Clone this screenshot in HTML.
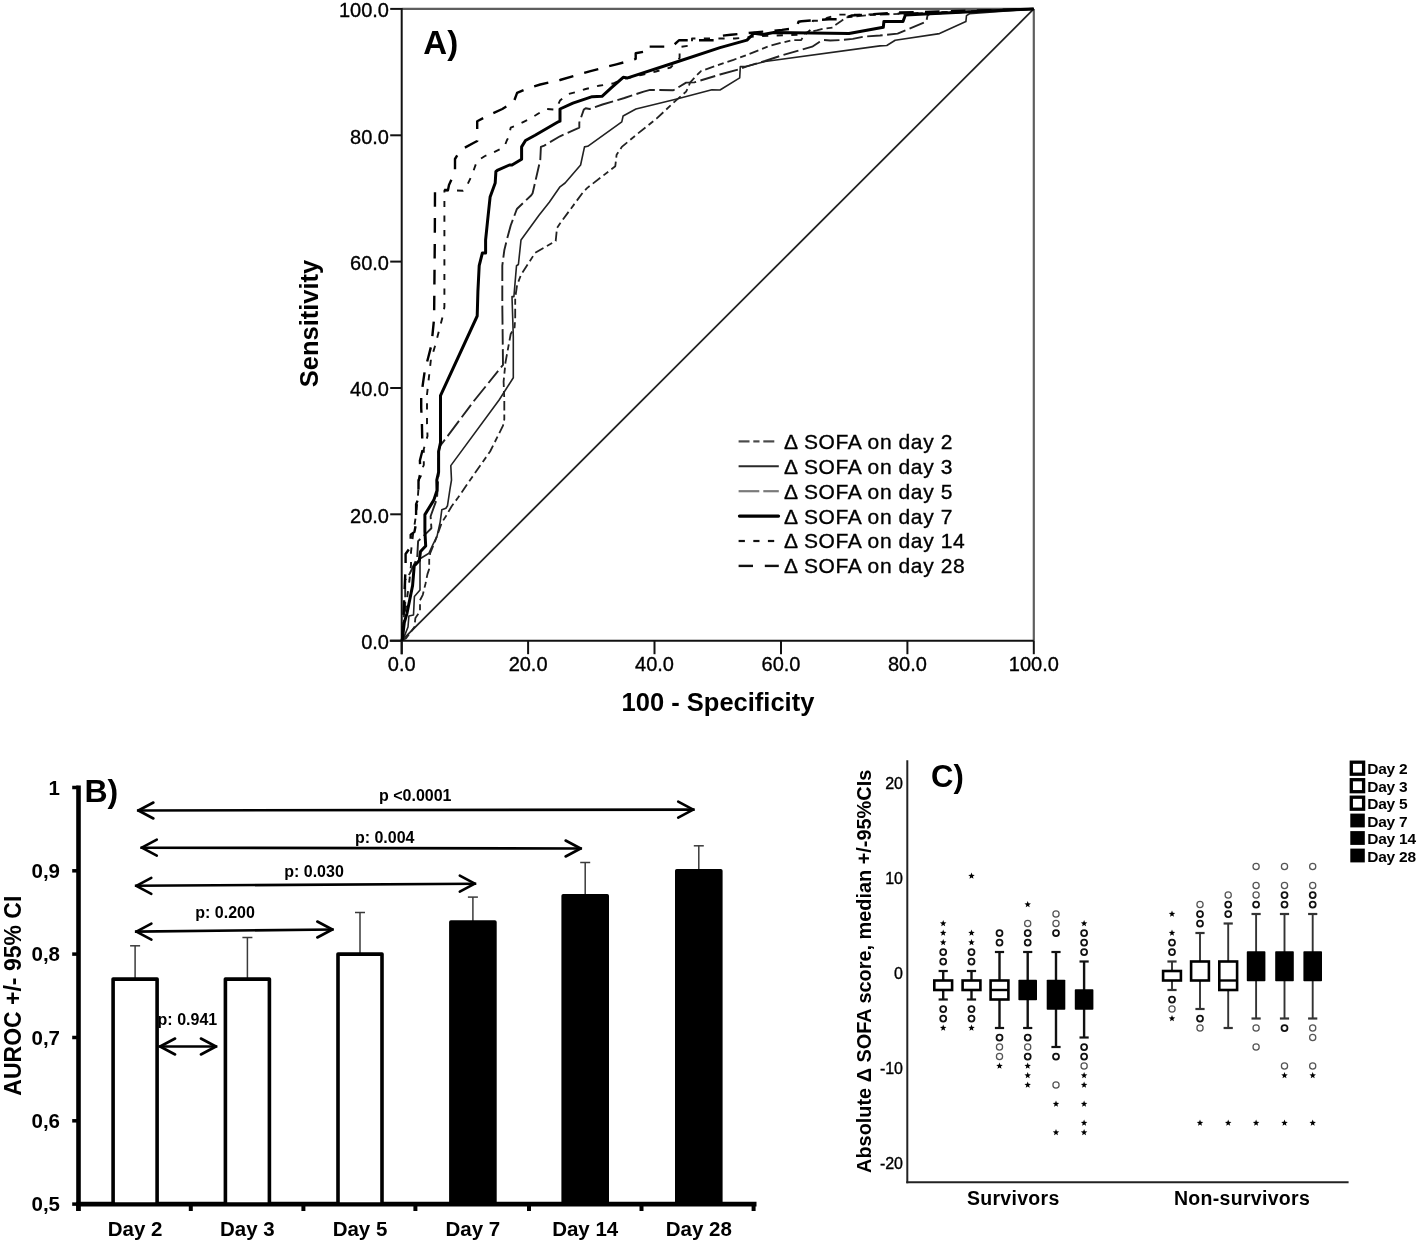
<!DOCTYPE html>
<html><head><meta charset="utf-8"><title>Figure</title>
<style>
html,body{margin:0;padding:0;background:#fff;}
svg{display:block;filter:blur(0.45px);}
text{font-family:"Liberation Sans", sans-serif;fill:#000;}
.rg{stroke:#000;stroke-width:0.35px;}
</style></head>
<body>
<svg width="1418" height="1243" viewBox="0 0 1418 1243">
<rect width="1418" height="1243" fill="#fff"/>
<line x1="401.7" y1="8.9" x2="1033.8" y2="8.9" stroke="#5e5e5e" stroke-width="2.2"/>
<line x1="1033.8" y1="8.9" x2="1033.8" y2="640.7" stroke="#5e5e5e" stroke-width="2.2"/>
<line x1="401.7" y1="7.9" x2="401.7" y2="654.2" stroke="#111" stroke-width="2"/>
<line x1="389.7" y1="640.7" x2="1033.8" y2="640.7" stroke="#111" stroke-width="2"/>
<line x1="401.7" y1="640.7" x2="1033.8" y2="8.9" stroke="#222" stroke-width="1.8"/>
<line x1="390.2" y1="640.7" x2="401.7" y2="640.7" stroke="#111" stroke-width="2"/>
<line x1="401.7" y1="640.7" x2="401.7" y2="654.2" stroke="#111" stroke-width="2"/>
<text x="389" y="649.0" font-size="20" text-anchor="end" class="rg">0.0</text>
<text x="401.7" y="670.6" font-size="20" text-anchor="middle" class="rg">0.0</text>
<line x1="390.2" y1="514.3" x2="401.7" y2="514.3" stroke="#111" stroke-width="2"/>
<line x1="528.1" y1="640.7" x2="528.1" y2="654.2" stroke="#111" stroke-width="2"/>
<text x="389" y="522.6" font-size="20" text-anchor="end" class="rg">20.0</text>
<text x="528.1" y="670.6" font-size="20" text-anchor="middle" class="rg">20.0</text>
<line x1="390.2" y1="388.0" x2="401.7" y2="388.0" stroke="#111" stroke-width="2"/>
<line x1="654.5" y1="640.7" x2="654.5" y2="654.2" stroke="#111" stroke-width="2"/>
<text x="389" y="396.3" font-size="20" text-anchor="end" class="rg">40.0</text>
<text x="654.5" y="670.6" font-size="20" text-anchor="middle" class="rg">40.0</text>
<line x1="390.2" y1="261.6" x2="401.7" y2="261.6" stroke="#111" stroke-width="2"/>
<line x1="781.0" y1="640.7" x2="781.0" y2="654.2" stroke="#111" stroke-width="2"/>
<text x="389" y="269.9" font-size="20" text-anchor="end" class="rg">60.0</text>
<text x="781.0" y="670.6" font-size="20" text-anchor="middle" class="rg">60.0</text>
<line x1="390.2" y1="135.3" x2="401.7" y2="135.3" stroke="#111" stroke-width="2"/>
<line x1="907.4" y1="640.7" x2="907.4" y2="654.2" stroke="#111" stroke-width="2"/>
<text x="389" y="143.6" font-size="20" text-anchor="end" class="rg">80.0</text>
<text x="907.4" y="670.6" font-size="20" text-anchor="middle" class="rg">80.0</text>
<line x1="390.2" y1="8.9" x2="401.7" y2="8.9" stroke="#111" stroke-width="2"/>
<line x1="1033.8" y1="640.7" x2="1033.8" y2="654.2" stroke="#111" stroke-width="2"/>
<text x="389" y="17.2" font-size="20" text-anchor="end" class="rg">100.0</text>
<text x="1033.8" y="670.6" font-size="20" text-anchor="middle" class="rg">100.0</text>
<text x="718" y="711.3" font-size="25.5" font-weight="bold" text-anchor="middle">100 - Specificity</text>
<text transform="translate(318,323.5) rotate(-90)" x="0" y="0" font-size="25.5" font-weight="bold" text-anchor="middle">Sensitivity</text>
<text x="423.3" y="53.8" font-size="33" font-weight="bold">A)</text>
<path d="M402.0,640.7 L404.3,636.4 L408.0,627.0 L408.9,616.0 L413.5,615.0 L414.4,596.6 L420.0,590.0 L420.0,558.8 L429.0,553.2 L433.0,544.4 L437.0,536.3 L440.2,521.8 L441.8,509.8 L445.9,508.2 L447.5,505.7 L449.9,489.7 L451.5,480.0 L450.8,465.6 L499.1,400.0 L513.3,377.7 L513.3,336.5 L512.0,296.6 L513.9,296.6 L516.5,265.7 L518.4,264.5 L521.0,240.0 L539.0,215.2 L549.3,202.3 L560.0,186.8 L565.1,183.0 L580.6,165.0 L584.5,146.9 L587.7,146.3 L621.8,121.8 L623.1,116.0 L635.9,109.0 L675.8,99.3 L711.9,89.7 L720.0,90.0 L739.7,77.9 L740.3,66.6 L746.0,66.6 L765.0,61.5 L880.0,45.9 L886.8,45.5 L895.2,40.2 L939.5,33.6 L965.9,21.6 L966.5,15.6 L969.5,13.8 L1033.6,9.0" fill="none" stroke="#222" stroke-width="1.6" stroke-linejoin="round"/>
<path d="M402.0,640.7 L403.0,625.0 L405.2,604.0 L405.2,580.0 L409.8,573.5 L417.2,557.8 L418.1,541.1 L426.5,533.1 L431.4,528.3 L430.6,516.2 L437.0,498.5 L438.6,472.0 L438.6,451.5 L439.9,446.3 L474.7,400.0 L503.0,364.9 L502.3,304.4 L502.3,265.7 L504.3,250.3 L506.8,240.0 L510.7,225.5 L516.5,210.0 L517.1,208.7 L531.3,195.2 L532.6,193.3 L540.3,159.8 L540.9,146.9 L544.2,145.6 L560.0,136.3 L579.3,127.6 L579.3,122.5 L583.8,109.6 L585.7,108.3 L589.6,109.0 L602.5,104.5 L624.4,98.0 L643.7,91.6 L650.1,89.9 L673.3,90.3 L686.1,82.6 L694.3,82.4 L720.0,74.5 L738.6,69.4 L746.0,66.6 L765.0,61.0 L782.9,55.0 L812.2,46.7 L819.0,42.2 L823.5,40.0 L830.3,40.5 L841.6,40.0 L852.8,38.9 L864.1,36.6 L880.0,35.5 L897.6,33.6 L926.3,21.6 L927.5,15.6 L930.0,13.8 L1033.6,9.0" fill="none" stroke="#222" stroke-width="1.9" stroke-dasharray="19 4.5 15.5 4.5" stroke-linejoin="round"/>
<path d="M402.0,640.7 L406.1,638.2 L414.4,627.1 L415.4,617.9 L420.0,611.4 L420.0,600.3 L422.8,594.8 L425.5,583.7 L427.4,574.4 L429.2,568.9 L429.2,559.6 L430.2,553.1 L434.8,542.0 L441.8,522.6 L445.9,516.2 L451.5,506.5 L457.9,497.8 L472.1,477.2 L490.1,451.5 L503.0,425.7 L504.3,419.3 L504.3,400.0 L503.6,381.6 L505.5,362.3 L510.7,334.0 L514.6,327.5 L515.2,317.2 L515.2,297.9 L517.1,285.0 L521.0,274.8 L535.1,252.9 L555.7,241.0 L557.0,228.0 L560.0,223.5 L583.2,192.0 L587.0,188.1 L615.3,166.2 L616.6,154.7 L621.8,146.9 L637.2,134.1 L656.5,118.6 L675.8,100.6 L686.1,91.6 L688.7,86.4 L690.0,82.6 L695.4,76.7 L701.0,71.1 L720.0,64.3 L733.5,59.8 L746.0,55.3 L757.2,50.8 L768.5,46.3 L780.9,42.9 L792.2,40.1 L801.2,40.1 L805.0,33.0 L816.7,30.4 L823.5,28.7 L832.5,27.6 L834.8,25.3 L841.6,20.8 L846.0,17.4 L870.0,15.0 L1033.6,9.0" fill="none" stroke="#222" stroke-width="1.8" stroke-dasharray="9.5 4 6 4" stroke-linejoin="round"/>
<path d="M402.0,640.7 L403.5,625.0 L405.5,610.0 L407.5,595.0 L409.5,580.0 L411.0,565.0 L411.0,552.0 L413.0,535.0 L416.0,515.0 L418.0,495.0 L419.3,476.0 L423.8,465.0 L423.8,449.0 L427.5,436.0 L427.0,424.0 L427.0,394.5 L430.9,359.7 L434.8,346.8 L442.5,317.2 L444.4,307.0 L444.4,190.5 L454.7,190.5 L463.0,190.7 L467.0,185.5 L472.0,175.0 L477.0,161.0 L485.0,156.0 L492.7,152.7 L504.3,147.0 L506.8,140.5 L508.8,136.6 L510.7,127.6 L515.8,125.7 L523.6,121.8 L528.7,119.3 L536.4,114.8 L541.6,111.5 L546.7,109.0 L554.5,109.6 L558.0,105.0 L560.0,100.6 L567.7,94.2 L575.4,92.2 L585.7,89.0 L598.6,85.8 L613.0,83.5 L623.0,79.0 L641.2,75.0 L655.9,71.5 L670.6,67.5 L679.6,58.1 L679.6,47.0 L692.0,45.3 L692.0,38.5 L735.0,38.5 L760.0,36.0 L805.0,34.5 L811.0,29.3 L812.8,20.8 L823.5,20.8 L826.9,18.0 L838.2,14.6 L864.0,14.6 L900.0,13.5 L1033.6,9.0" fill="none" stroke="#111" stroke-width="1.9" stroke-dasharray="6.2 8.4" stroke-linejoin="round"/>
<path d="M402.0,640.7 L403.0,625.0 L405.6,567.0 L405.6,554.0 L410.7,546.7 L410.7,534.6 L414.4,531.9 L416.1,523.4 L416.1,504.1 L418.5,498.5 L418.5,480.0 L420.6,476.0 L419.9,460.5 L422.5,450.2 L421.9,423.2 L421.2,407.7 L421.2,396.4 L423.2,381.6 L424.9,370.0 L428.3,357.2 L431.5,344.7 L434.1,318.5 L434.8,240.0 L435.0,190.0 L448.0,190.0 L449.0,185.0 L455.0,172.0 L455.0,159.0 L460.5,150.0 L473.4,143.0 L477.2,141.0 L477.2,121.2 L490.0,114.7 L502.3,109.0 L512.0,103.2 L513.3,103.2 L517.1,92.9 L527.4,88.4 L540.3,84.5 L560.0,80.0 L590.5,71.1 L616.4,64.3 L627.6,61.4 L635.7,58.8 L635.7,53.3 L646.2,51.2 L646.2,46.6 L672.0,46.6 L679.2,40.2 L715.6,40.2 L719.0,36.0 L730.8,34.7 L782.0,29.9 L795.0,28.3 L797.5,25.0 L798.5,21.8 L801.5,21.2 L829.0,19.3 L838.0,19.3 L846.0,17.4 L852.0,15.5 L900.0,12.5 L1033.6,9.0" fill="none" stroke="#000" stroke-width="2.4" stroke-dasharray="14.6 11.3" stroke-linejoin="round"/>
<path d="M402.0,640.7 L402.4,639.0 L404.3,622.5 L407.0,613.3 L409.8,599.4 L412.6,585.5 L414.2,566.1 L419.3,560.5 L420.5,551.6 L425.7,546.0 L424.9,531.5 L424.9,514.6 L433.8,500.1 L437.0,490.5 L436.8,480.0 L438.6,472.1 L438.6,451.5 L440.5,442.5 L440.5,395.7 L477.2,316.0 L477.9,291.5 L479.2,265.7 L482.4,252.9 L485.6,252.9 L485.6,240.0 L487.5,221.6 L490.1,197.1 L495.2,183.0 L495.9,171.4 L497.8,170.1 L509.4,165.0 L512.0,165.0 L521.6,159.2 L521.6,146.9 L525.5,140.5 L535.1,135.3 L558.3,121.8 L560.0,121.2 L560.0,109.0 L572.9,103.2 L592.2,96.7 L602.0,96.3 L611.5,87.7 L623.2,77.3 L627.7,77.9 L672.8,63.2 L720.0,47.6 L747.0,40.1 L753.9,33.3 L762.9,34.4 L773.9,32.6 L849.0,33.5 L883.3,27.3 L883.9,21.5 L903.0,21.5 L905.4,15.0 L930.0,13.8 L965.9,12.0 L1033.6,9.0" fill="none" stroke="#000" stroke-width="3" stroke-linejoin="round"/>
<line x1="738.6" y1="441.4" x2="749.5" y2="441.4" stroke="#4a4a4a" stroke-width="2.2"/>
<line x1="753.3" y1="441.4" x2="759.5" y2="441.4" stroke="#4a4a4a" stroke-width="2.2"/>
<line x1="763.3" y1="441.4" x2="774.3" y2="441.4" stroke="#4a4a4a" stroke-width="2.2"/>
<text x="784" y="448.8" font-size="21" letter-spacing="0.6" class="rg">Δ SOFA on day 2</text>
<line x1="738.6" y1="466.3" x2="778.8" y2="466.3" stroke="#2a2a2a" stroke-width="2.0"/>
<text x="784" y="473.7" font-size="21" letter-spacing="0.6" class="rg">Δ SOFA on day 3</text>
<line x1="738.6" y1="491.2" x2="759.3" y2="491.2" stroke="#7a7a7a" stroke-width="2.2"/>
<line x1="763.3" y1="491.2" x2="778.8" y2="491.2" stroke="#7a7a7a" stroke-width="2.2"/>
<text x="784" y="498.6" font-size="21" letter-spacing="0.6" class="rg">Δ SOFA on day 5</text>
<line x1="739.5" y1="516.1" x2="778.5" y2="516.1" stroke="#000" stroke-width="3.3" stroke-linecap="round"/>
<text x="784" y="523.5" font-size="21" letter-spacing="0.6" class="rg">Δ SOFA on day 7</text>
<line x1="738.6" y1="541.0" x2="744.9" y2="541.0" stroke="#111" stroke-width="2.2"/>
<line x1="753.3" y1="541.0" x2="759.5" y2="541.0" stroke="#111" stroke-width="2.2"/>
<line x1="767.9" y1="541.0" x2="774.2" y2="541.0" stroke="#111" stroke-width="2.2"/>
<text x="784" y="548.4" font-size="21" letter-spacing="0.6" class="rg">Δ SOFA on day 14</text>
<line x1="738.6" y1="565.9" x2="753" y2="565.9" stroke="#111" stroke-width="2.4"/>
<line x1="764.8" y1="565.9" x2="778.8" y2="565.9" stroke="#111" stroke-width="2.4"/>
<text x="784" y="573.3" font-size="21" letter-spacing="0.6" class="rg">Δ SOFA on day 28</text>
<line x1="78.5" y1="785.5" x2="78.5" y2="1211" stroke="#000" stroke-width="4.6"/>
<line x1="76.2" y1="1204.1" x2="756.5" y2="1204.1" stroke="#000" stroke-width="4.6"/>
<line x1="72.2" y1="1204.1" x2="78.5" y2="1204.1" stroke="#000" stroke-width="3.5"/>
<text x="60" y="1211.4" font-size="20.5" font-weight="bold" text-anchor="end">0,5</text>
<line x1="72.2" y1="1120.8" x2="78.5" y2="1120.8" stroke="#000" stroke-width="3.5"/>
<text x="60" y="1128.1" font-size="20.5" font-weight="bold" text-anchor="end">0,6</text>
<line x1="72.2" y1="1037.5" x2="78.5" y2="1037.5" stroke="#000" stroke-width="3.5"/>
<text x="60" y="1044.8" font-size="20.5" font-weight="bold" text-anchor="end">0,7</text>
<line x1="72.2" y1="954.1" x2="78.5" y2="954.1" stroke="#000" stroke-width="3.5"/>
<text x="60" y="961.4" font-size="20.5" font-weight="bold" text-anchor="end">0,8</text>
<line x1="72.2" y1="870.8" x2="78.5" y2="870.8" stroke="#000" stroke-width="3.5"/>
<text x="60" y="878.1" font-size="20.5" font-weight="bold" text-anchor="end">0,9</text>
<line x1="72.2" y1="787.5" x2="78.5" y2="787.5" stroke="#000" stroke-width="3.5"/>
<text x="60" y="794.8" font-size="20.5" font-weight="bold" text-anchor="end">1</text>
<line x1="78.3" y1="1204" x2="78.3" y2="1211" stroke="#000" stroke-width="4"/>
<line x1="190.8" y1="1204" x2="190.8" y2="1211" stroke="#000" stroke-width="4"/>
<line x1="303.4" y1="1204" x2="303.4" y2="1211" stroke="#000" stroke-width="4"/>
<line x1="415.4" y1="1204" x2="415.4" y2="1211" stroke="#000" stroke-width="4"/>
<line x1="529" y1="1204" x2="529" y2="1211" stroke="#000" stroke-width="4"/>
<line x1="641.5" y1="1204" x2="641.5" y2="1211" stroke="#000" stroke-width="4"/>
<line x1="753.6" y1="1204" x2="753.6" y2="1211" stroke="#000" stroke-width="4"/>
<text x="157.6" y="1024.7" font-size="16" font-weight="bold">p: 0.941</text>
<line x1="135.1" y1="979.1" x2="135.1" y2="945.8" stroke="#3a3a3a" stroke-width="1.5"/>
<line x1="130.1" y1="945.8" x2="140.1" y2="945.8" stroke="#3a3a3a" stroke-width="1.5"/>
<rect x="113.1" y="979.1" width="44.0" height="225.0" fill="#fff" stroke="#000" stroke-width="3.6" stroke-linejoin="round"/>
<text x="135.1" y="1236.3" font-size="20.5" font-weight="bold" text-anchor="middle">Day 2</text>
<line x1="247.4" y1="979.1" x2="247.4" y2="937.5" stroke="#3a3a3a" stroke-width="1.5"/>
<line x1="242.4" y1="937.5" x2="252.4" y2="937.5" stroke="#3a3a3a" stroke-width="1.5"/>
<rect x="225.4" y="979.1" width="44.0" height="225.0" fill="#fff" stroke="#000" stroke-width="3.6" stroke-linejoin="round"/>
<text x="247.4" y="1236.3" font-size="20.5" font-weight="bold" text-anchor="middle">Day 3</text>
<line x1="360" y1="954.1" x2="360" y2="912.5" stroke="#3a3a3a" stroke-width="1.5"/>
<line x1="355" y1="912.5" x2="365" y2="912.5" stroke="#3a3a3a" stroke-width="1.5"/>
<rect x="338.0" y="954.1" width="44.0" height="250.0" fill="#fff" stroke="#000" stroke-width="3.6" stroke-linejoin="round"/>
<text x="360" y="1236.3" font-size="20.5" font-weight="bold" text-anchor="middle">Day 5</text>
<line x1="472.9" y1="922.1" x2="472.9" y2="897.1" stroke="#3a3a3a" stroke-width="1.5"/>
<line x1="467.9" y1="897.1" x2="477.9" y2="897.1" stroke="#3a3a3a" stroke-width="1.5"/>
<rect x="450.9" y="922.1" width="44.0" height="282.0" fill="#000" stroke="#000" stroke-width="3.6" stroke-linejoin="round"/>
<text x="472.9" y="1236.3" font-size="20.5" font-weight="bold" text-anchor="middle">Day 7</text>
<line x1="585.2" y1="895.8" x2="585.2" y2="862.5" stroke="#3a3a3a" stroke-width="1.5"/>
<line x1="580.2" y1="862.5" x2="590.2" y2="862.5" stroke="#3a3a3a" stroke-width="1.5"/>
<rect x="563.2" y="895.8" width="44.0" height="308.3" fill="#000" stroke="#000" stroke-width="3.6" stroke-linejoin="round"/>
<text x="585.2" y="1236.3" font-size="20.5" font-weight="bold" text-anchor="middle">Day 14</text>
<line x1="698.8" y1="870.8" x2="698.8" y2="845.8" stroke="#3a3a3a" stroke-width="1.5"/>
<line x1="693.8" y1="845.8" x2="703.8" y2="845.8" stroke="#3a3a3a" stroke-width="1.5"/>
<rect x="676.8" y="870.8" width="44.0" height="333.3" fill="#000" stroke="#000" stroke-width="3.6" stroke-linejoin="round"/>
<text x="698.8" y="1236.3" font-size="20.5" font-weight="bold" text-anchor="middle">Day 28</text>
<line x1="136.9" y1="810.5" x2="694.7" y2="809.6" stroke="#000" stroke-width="2.6"/><polyline points="153.4,802.5 138.4,810.5 153.4,818.5" fill="none" stroke="#000" stroke-width="2.6" stroke-linecap="round" stroke-linejoin="round"/><polyline points="678.2,801.6 693.2,809.6 678.2,817.6" fill="none" stroke="#000" stroke-width="2.6" stroke-linecap="round" stroke-linejoin="round"/>
<line x1="140.3" y1="847.7" x2="582.1" y2="848.5" stroke="#000" stroke-width="2.6"/><polyline points="156.8,839.7 141.8,847.7 156.8,855.7" fill="none" stroke="#000" stroke-width="2.6" stroke-linecap="round" stroke-linejoin="round"/><polyline points="565.6,840.5 580.6,848.5 565.6,856.5" fill="none" stroke="#000" stroke-width="2.6" stroke-linecap="round" stroke-linejoin="round"/>
<line x1="134.8" y1="885.8" x2="476.3" y2="883.7" stroke="#000" stroke-width="2.6"/><polyline points="151.3,877.8 136.3,885.8 151.3,893.8" fill="none" stroke="#000" stroke-width="2.6" stroke-linecap="round" stroke-linejoin="round"/><polyline points="459.8,875.7 474.8,883.7 459.8,891.7" fill="none" stroke="#000" stroke-width="2.6" stroke-linecap="round" stroke-linejoin="round"/>
<line x1="134.9" y1="931.6" x2="333.8" y2="929.5" stroke="#000" stroke-width="2.6"/><polyline points="151.4,923.6 136.4,931.6 151.4,939.6" fill="none" stroke="#000" stroke-width="2.6" stroke-linecap="round" stroke-linejoin="round"/><polyline points="317.3,921.5 332.3,929.5 317.3,937.5" fill="none" stroke="#000" stroke-width="2.6" stroke-linecap="round" stroke-linejoin="round"/>
<line x1="158.6" y1="1046.5" x2="217.4" y2="1046.5" stroke="#000" stroke-width="2.6"/><polyline points="175.1,1038.5 160.1,1046.5 175.1,1054.5" fill="none" stroke="#000" stroke-width="2.6" stroke-linecap="round" stroke-linejoin="round"/><polyline points="200.9,1038.5 215.9,1046.5 200.9,1054.5" fill="none" stroke="#000" stroke-width="2.6" stroke-linecap="round" stroke-linejoin="round"/>
<text x="379" y="801.2" font-size="16" font-weight="bold">p &lt;0.0001</text>
<text x="354.9" y="842.6" font-size="16" font-weight="bold">p: 0.004</text>
<text x="284.2" y="877.3" font-size="16" font-weight="bold">p: 0.030</text>
<text x="195.3" y="917.5" font-size="16" font-weight="bold">p: 0.200</text>
<text x="84.5" y="801.9" font-size="32" font-weight="bold">B)</text>
<text transform="translate(20.6,995.7) rotate(-90)" x="0" y="0" font-size="23" font-weight="bold" text-anchor="middle">AUROC +/- 95% CI</text>
<line x1="907.3" y1="760.3" x2="907.3" y2="1183.2" stroke="#222" stroke-width="2"/>
<line x1="906.3" y1="1182.2" x2="1348.6" y2="1182.2" stroke="#222" stroke-width="2"/>
<text x="903" y="789.1" font-size="16" text-anchor="end" class="rg">20</text>
<text x="903" y="884.1" font-size="16" text-anchor="end" class="rg">10</text>
<text x="903" y="979.1" font-size="16" text-anchor="end" class="rg">0</text>
<text x="903" y="1074.1" font-size="16" text-anchor="end" class="rg">-10</text>
<text x="903" y="1169.1" font-size="16" text-anchor="end" class="rg">-20</text>
<text x="931" y="786.8" font-size="31" font-weight="bold">C)</text>
<text transform="translate(871.2,971.35) rotate(-90)" x="0" y="0" font-size="19.9" font-weight="bold" text-anchor="middle">Absolute Δ SOFA score, median +/-95%CIs</text>
<text x="1013.3" y="1204.7" font-size="19.5" font-weight="bold" letter-spacing="0.3" text-anchor="middle">Survivors</text>
<text x="1242" y="1204.7" font-size="19.5" font-weight="bold" letter-spacing="0.3" text-anchor="middle">Non-survivors</text>
<rect x="1351.3" y="762.2" width="12.3" height="12" fill="#fff" stroke="#000" stroke-width="3.3"/>
<text x="1367.3" y="774.1" font-size="15.5" font-weight="bold" letter-spacing="-0.25">Day 2</text>
<rect x="1351.3" y="779.7" width="12.3" height="12" fill="#fff" stroke="#000" stroke-width="3.3"/>
<text x="1367.3" y="791.6" font-size="15.5" font-weight="bold" letter-spacing="-0.25">Day 3</text>
<rect x="1351.3" y="797.2" width="12.3" height="12" fill="#fff" stroke="#000" stroke-width="3.3"/>
<text x="1367.3" y="809.1" font-size="15.5" font-weight="bold" letter-spacing="-0.25">Day 5</text>
<rect x="1350.3" y="813.6" width="14.5" height="13.8" fill="#000"/>
<text x="1367.3" y="826.6" font-size="15.5" font-weight="bold" letter-spacing="-0.25">Day 7</text>
<rect x="1350.3" y="831.1" width="14.5" height="13.8" fill="#000"/>
<text x="1367.3" y="844.1" font-size="15.5" font-weight="bold" letter-spacing="-0.25">Day 14</text>
<rect x="1350.3" y="848.6" width="14.5" height="13.8" fill="#000"/>
<text x="1367.3" y="861.6" font-size="15.5" font-weight="bold" letter-spacing="-0.25">Day 28</text>
<line x1="943.2" y1="971.0" x2="943.2" y2="999.5" stroke="#111" stroke-width="2.4"/>
<line x1="938.6" y1="971.0" x2="947.8000000000001" y2="971.0" stroke="#111" stroke-width="2.2"/>
<line x1="938.6" y1="999.5" x2="947.8000000000001" y2="999.5" stroke="#111" stroke-width="2.2"/>
<rect x="934.3" y="980.5" width="17.8" height="9.5" fill="#fff" stroke="#000" stroke-width="2.6"/>
<circle cx="943.2" cy="961.5" r="3.0" fill="none" stroke="#111" stroke-width="1.75"/>
<circle cx="943.2" cy="952.0" r="3.0" fill="none" stroke="#111" stroke-width="1.75"/>
<polygon points="943.20,939.10 944.04,941.34 946.43,941.45 944.56,942.94 945.20,945.25 943.20,943.93 941.20,945.25 941.84,942.94 939.97,941.45 942.36,941.34" fill="#000"/>
<polygon points="943.20,929.60 944.04,931.84 946.43,931.95 944.56,933.44 945.20,935.75 943.20,934.43 941.20,935.75 941.84,933.44 939.97,931.95 942.36,931.84" fill="#000"/>
<polygon points="943.20,920.10 944.04,922.34 946.43,922.45 944.56,923.94 945.20,926.25 943.20,924.93 941.20,926.25 941.84,923.94 939.97,922.45 942.36,922.34" fill="#000"/>
<circle cx="943.2" cy="1009.0" r="3.0" fill="none" stroke="#111" stroke-width="1.75"/>
<circle cx="943.2" cy="1018.5" r="3.0" fill="none" stroke="#111" stroke-width="1.75"/>
<polygon points="943.20,1024.60 944.04,1026.84 946.43,1026.95 944.56,1028.44 945.20,1030.75 943.20,1029.43 941.20,1030.75 941.84,1028.44 939.97,1026.95 942.36,1026.84" fill="#000"/>
<line x1="971.5" y1="971.0" x2="971.5" y2="999.5" stroke="#111" stroke-width="2.4"/>
<line x1="966.9" y1="971.0" x2="976.1" y2="971.0" stroke="#111" stroke-width="2.2"/>
<line x1="966.9" y1="999.5" x2="976.1" y2="999.5" stroke="#111" stroke-width="2.2"/>
<rect x="962.6" y="980.5" width="17.8" height="9.5" fill="#fff" stroke="#000" stroke-width="2.6"/>
<circle cx="971.5" cy="961.5" r="3.0" fill="none" stroke="#111" stroke-width="1.75"/>
<circle cx="971.5" cy="952.0" r="3.0" fill="none" stroke="#111" stroke-width="1.75"/>
<polygon points="971.50,939.10 972.34,941.34 974.73,941.45 972.86,942.94 973.50,945.25 971.50,943.93 969.50,945.25 970.14,942.94 968.27,941.45 970.66,941.34" fill="#000"/>
<polygon points="971.50,929.60 972.34,931.84 974.73,931.95 972.86,933.44 973.50,935.75 971.50,934.43 969.50,935.75 970.14,933.44 968.27,931.95 970.66,931.84" fill="#000"/>
<polygon points="971.50,872.60 972.34,874.84 974.73,874.95 972.86,876.44 973.50,878.75 971.50,877.43 969.50,878.75 970.14,876.44 968.27,874.95 970.66,874.84" fill="#000"/>
<circle cx="971.5" cy="1009.0" r="3.0" fill="none" stroke="#111" stroke-width="1.75"/>
<circle cx="971.5" cy="1018.5" r="3.0" fill="none" stroke="#111" stroke-width="1.75"/>
<polygon points="971.50,1024.60 972.34,1026.84 974.73,1026.95 972.86,1028.44 973.50,1030.75 971.50,1029.43 969.50,1030.75 970.14,1028.44 968.27,1026.95 970.66,1026.84" fill="#000"/>
<line x1="999.5" y1="952.0" x2="999.5" y2="1028.0" stroke="#111" stroke-width="2.4"/>
<line x1="994.9" y1="952.0" x2="1004.1" y2="952.0" stroke="#111" stroke-width="2.2"/>
<line x1="994.9" y1="1028.0" x2="1004.1" y2="1028.0" stroke="#111" stroke-width="2.2"/>
<rect x="990.6" y="980.5" width="17.8" height="19.0" fill="#fff" stroke="#000" stroke-width="2.6"/>
<line x1="990.6" y1="990.0" x2="1008.4" y2="990.0" stroke="#000" stroke-width="2.4"/>
<circle cx="999.5" cy="942.5" r="3.0" fill="none" stroke="#111" stroke-width="1.75"/>
<circle cx="999.5" cy="933.0" r="3.0" fill="none" stroke="#111" stroke-width="1.75"/>
<circle cx="999.5" cy="1037.5" r="3.0" fill="none" stroke="#111" stroke-width="1.75"/>
<circle cx="999.5" cy="1047.0" r="3.1" fill="none" stroke="#555" stroke-width="1.25"/>
<circle cx="999.5" cy="1056.5" r="3.1" fill="none" stroke="#555" stroke-width="1.25"/>
<polygon points="999.50,1062.60 1000.34,1064.84 1002.73,1064.95 1000.86,1066.44 1001.50,1068.75 999.50,1067.43 997.50,1068.75 998.14,1066.44 996.27,1064.95 998.66,1064.84" fill="#000"/>
<line x1="1027.7" y1="952.0" x2="1027.7" y2="1028.0" stroke="#111" stroke-width="2.4"/>
<line x1="1023.1" y1="952.0" x2="1032.3" y2="952.0" stroke="#111" stroke-width="2.2"/>
<line x1="1023.1" y1="1028.0" x2="1032.3" y2="1028.0" stroke="#111" stroke-width="2.2"/>
<rect x="1018.4" y="979.7" width="18.6" height="20.6" fill="#000" rx="0.8"/>
<circle cx="1027.7" cy="942.5" r="3.0" fill="none" stroke="#111" stroke-width="1.75"/>
<circle cx="1027.7" cy="933.0" r="3.0" fill="none" stroke="#111" stroke-width="1.75"/>
<circle cx="1027.7" cy="923.5" r="3.1" fill="none" stroke="#555" stroke-width="1.25"/>
<polygon points="1027.70,901.10 1028.54,903.34 1030.93,903.45 1029.06,904.94 1029.70,907.25 1027.70,905.93 1025.70,907.25 1026.34,904.94 1024.47,903.45 1026.86,903.34" fill="#000"/>
<circle cx="1027.7" cy="1037.5" r="3.0" fill="none" stroke="#111" stroke-width="1.75"/>
<circle cx="1027.7" cy="1047.0" r="3.1" fill="none" stroke="#555" stroke-width="1.25"/>
<circle cx="1027.7" cy="1056.5" r="3.0" fill="none" stroke="#111" stroke-width="1.75"/>
<polygon points="1027.70,1062.60 1028.54,1064.84 1030.93,1064.95 1029.06,1066.44 1029.70,1068.75 1027.70,1067.43 1025.70,1068.75 1026.34,1066.44 1024.47,1064.95 1026.86,1064.84" fill="#000"/>
<polygon points="1027.70,1072.10 1028.54,1074.34 1030.93,1074.45 1029.06,1075.94 1029.70,1078.25 1027.70,1076.93 1025.70,1078.25 1026.34,1075.94 1024.47,1074.45 1026.86,1074.34" fill="#000"/>
<polygon points="1027.70,1081.60 1028.54,1083.84 1030.93,1083.95 1029.06,1085.44 1029.70,1087.75 1027.70,1086.43 1025.70,1087.75 1026.34,1085.44 1024.47,1083.95 1026.86,1083.84" fill="#000"/>
<line x1="1056.0" y1="952.0" x2="1056.0" y2="1047.0" stroke="#111" stroke-width="2.4"/>
<line x1="1051.4" y1="952.0" x2="1060.6" y2="952.0" stroke="#111" stroke-width="2.2"/>
<line x1="1051.4" y1="1047.0" x2="1060.6" y2="1047.0" stroke="#111" stroke-width="2.2"/>
<rect x="1046.7" y="979.7" width="18.6" height="30.1" fill="#000" rx="0.8"/>
<circle cx="1056.0" cy="933.0" r="3.0" fill="none" stroke="#111" stroke-width="1.75"/>
<circle cx="1056.0" cy="923.5" r="3.1" fill="none" stroke="#555" stroke-width="1.25"/>
<circle cx="1056.0" cy="914.0" r="3.1" fill="none" stroke="#555" stroke-width="1.25"/>
<circle cx="1056.0" cy="1056.5" r="3.0" fill="none" stroke="#111" stroke-width="1.75"/>
<circle cx="1056.0" cy="1085.0" r="3.1" fill="none" stroke="#555" stroke-width="1.25"/>
<polygon points="1056.00,1100.60 1056.84,1102.84 1059.23,1102.95 1057.36,1104.44 1058.00,1106.75 1056.00,1105.43 1054.00,1106.75 1054.64,1104.44 1052.77,1102.95 1055.16,1102.84" fill="#000"/>
<polygon points="1056.00,1129.10 1056.84,1131.34 1059.23,1131.45 1057.36,1132.94 1058.00,1135.25 1056.00,1133.93 1054.00,1135.25 1054.64,1132.94 1052.77,1131.45 1055.16,1131.34" fill="#000"/>
<line x1="1084.1" y1="961.5" x2="1084.1" y2="1037.5" stroke="#111" stroke-width="2.4"/>
<line x1="1079.5" y1="961.5" x2="1088.6999999999998" y2="961.5" stroke="#111" stroke-width="2.2"/>
<line x1="1079.5" y1="1037.5" x2="1088.6999999999998" y2="1037.5" stroke="#111" stroke-width="2.2"/>
<rect x="1074.8" y="989.2" width="18.6" height="20.6" fill="#000" rx="0.8"/>
<circle cx="1084.1" cy="952.0" r="3.0" fill="none" stroke="#111" stroke-width="1.75"/>
<circle cx="1084.1" cy="942.5" r="3.0" fill="none" stroke="#111" stroke-width="1.75"/>
<circle cx="1084.1" cy="933.0" r="3.0" fill="none" stroke="#111" stroke-width="1.75"/>
<polygon points="1084.10,920.10 1084.94,922.34 1087.33,922.45 1085.46,923.94 1086.10,926.25 1084.10,924.93 1082.10,926.25 1082.74,923.94 1080.87,922.45 1083.26,922.34" fill="#000"/>
<circle cx="1084.1" cy="1047.0" r="3.0" fill="none" stroke="#111" stroke-width="1.75"/>
<circle cx="1084.1" cy="1056.5" r="3.0" fill="none" stroke="#111" stroke-width="1.75"/>
<circle cx="1084.1" cy="1066.0" r="3.1" fill="none" stroke="#555" stroke-width="1.25"/>
<polygon points="1084.10,1072.10 1084.94,1074.34 1087.33,1074.45 1085.46,1075.94 1086.10,1078.25 1084.10,1076.93 1082.10,1078.25 1082.74,1075.94 1080.87,1074.45 1083.26,1074.34" fill="#000"/>
<polygon points="1084.10,1081.60 1084.94,1083.84 1087.33,1083.95 1085.46,1085.44 1086.10,1087.75 1084.10,1086.43 1082.10,1087.75 1082.74,1085.44 1080.87,1083.95 1083.26,1083.84" fill="#000"/>
<polygon points="1084.10,1100.60 1084.94,1102.84 1087.33,1102.95 1085.46,1104.44 1086.10,1106.75 1084.10,1105.43 1082.10,1106.75 1082.74,1104.44 1080.87,1102.95 1083.26,1102.84" fill="#000"/>
<polygon points="1084.10,1119.60 1084.94,1121.84 1087.33,1121.95 1085.46,1123.44 1086.10,1125.75 1084.10,1124.43 1082.10,1125.75 1082.74,1123.44 1080.87,1121.95 1083.26,1121.84" fill="#000"/>
<polygon points="1084.10,1129.10 1084.94,1131.34 1087.33,1131.45 1085.46,1132.94 1086.10,1135.25 1084.10,1133.93 1082.10,1135.25 1082.74,1132.94 1080.87,1131.45 1083.26,1131.34" fill="#000"/>
<line x1="1172.0" y1="961.5" x2="1172.0" y2="990.0" stroke="#333" stroke-width="1.9"/>
<line x1="1167.4" y1="961.5" x2="1176.6" y2="961.5" stroke="#333" stroke-width="2.2"/>
<line x1="1167.4" y1="990.0" x2="1176.6" y2="990.0" stroke="#333" stroke-width="2.2"/>
<rect x="1163.1" y="971.0" width="17.8" height="9.5" fill="#fff" stroke="#000" stroke-width="2.6"/>
<circle cx="1172.0" cy="952.0" r="3.0" fill="none" stroke="#111" stroke-width="1.75"/>
<circle cx="1172.0" cy="942.5" r="3.0" fill="none" stroke="#111" stroke-width="1.75"/>
<polygon points="1172.00,929.60 1172.84,931.84 1175.23,931.95 1173.36,933.44 1174.00,935.75 1172.00,934.43 1170.00,935.75 1170.64,933.44 1168.77,931.95 1171.16,931.84" fill="#000"/>
<polygon points="1172.00,910.60 1172.84,912.84 1175.23,912.95 1173.36,914.44 1174.00,916.75 1172.00,915.43 1170.00,916.75 1170.64,914.44 1168.77,912.95 1171.16,912.84" fill="#000"/>
<circle cx="1172.0" cy="999.5" r="3.0" fill="none" stroke="#111" stroke-width="1.75"/>
<circle cx="1172.0" cy="1009.0" r="3.1" fill="none" stroke="#555" stroke-width="1.25"/>
<polygon points="1172.00,1015.10 1172.84,1017.34 1175.23,1017.45 1173.36,1018.94 1174.00,1021.25 1172.00,1019.93 1170.00,1021.25 1170.64,1018.94 1168.77,1017.45 1171.16,1017.34" fill="#000"/>
<line x1="1200.0" y1="933.0" x2="1200.0" y2="1009.0" stroke="#333" stroke-width="1.9"/>
<line x1="1195.4" y1="933.0" x2="1204.6" y2="933.0" stroke="#333" stroke-width="2.2"/>
<line x1="1195.4" y1="1009.0" x2="1204.6" y2="1009.0" stroke="#333" stroke-width="2.2"/>
<rect x="1191.1" y="961.5" width="17.8" height="19.0" fill="#fff" stroke="#000" stroke-width="2.6"/>
<circle cx="1200.0" cy="923.5" r="3.0" fill="none" stroke="#111" stroke-width="1.75"/>
<circle cx="1200.0" cy="914.0" r="3.0" fill="none" stroke="#111" stroke-width="1.75"/>
<circle cx="1200.0" cy="904.5" r="3.1" fill="none" stroke="#555" stroke-width="1.25"/>
<circle cx="1200.0" cy="1018.5" r="3.0" fill="none" stroke="#111" stroke-width="1.75"/>
<circle cx="1200.0" cy="1028.0" r="3.1" fill="none" stroke="#555" stroke-width="1.25"/>
<polygon points="1200.00,1119.60 1200.84,1121.84 1203.23,1121.95 1201.36,1123.44 1202.00,1125.75 1200.00,1124.43 1198.00,1125.75 1198.64,1123.44 1196.77,1121.95 1199.16,1121.84" fill="#000"/>
<line x1="1228.2" y1="923.5" x2="1228.2" y2="1028.0" stroke="#333" stroke-width="1.9"/>
<line x1="1223.6000000000001" y1="923.5" x2="1232.8" y2="923.5" stroke="#333" stroke-width="2.2"/>
<line x1="1223.6000000000001" y1="1028.0" x2="1232.8" y2="1028.0" stroke="#333" stroke-width="2.2"/>
<rect x="1219.3" y="961.5" width="17.8" height="28.5" fill="#fff" stroke="#000" stroke-width="2.6"/>
<line x1="1219.3" y1="980.5" x2="1237.1" y2="980.5" stroke="#000" stroke-width="2.4"/>
<circle cx="1228.2" cy="914.0" r="3.0" fill="none" stroke="#111" stroke-width="1.75"/>
<circle cx="1228.2" cy="904.5" r="3.0" fill="none" stroke="#111" stroke-width="1.75"/>
<circle cx="1228.2" cy="895.0" r="3.1" fill="none" stroke="#555" stroke-width="1.25"/>
<polygon points="1228.20,1119.60 1229.04,1121.84 1231.43,1121.95 1229.56,1123.44 1230.20,1125.75 1228.20,1124.43 1226.20,1125.75 1226.84,1123.44 1224.97,1121.95 1227.36,1121.84" fill="#000"/>
<line x1="1256.1" y1="914.0" x2="1256.1" y2="1018.5" stroke="#333" stroke-width="1.9"/>
<line x1="1251.5" y1="914.0" x2="1260.6999999999998" y2="914.0" stroke="#333" stroke-width="2.2"/>
<line x1="1251.5" y1="1018.5" x2="1260.6999999999998" y2="1018.5" stroke="#333" stroke-width="2.2"/>
<rect x="1246.8" y="951.2" width="18.6" height="30.1" fill="#000" rx="0.8"/>
<circle cx="1256.1" cy="904.5" r="3.0" fill="none" stroke="#111" stroke-width="1.75"/>
<circle cx="1256.1" cy="895.0" r="3.1" fill="none" stroke="#555" stroke-width="1.25"/>
<circle cx="1256.1" cy="885.5" r="3.1" fill="none" stroke="#555" stroke-width="1.25"/>
<circle cx="1256.1" cy="866.5" r="3.1" fill="none" stroke="#555" stroke-width="1.25"/>
<circle cx="1256.1" cy="1028.0" r="3.1" fill="none" stroke="#555" stroke-width="1.25"/>
<circle cx="1256.1" cy="1047.0" r="3.1" fill="none" stroke="#555" stroke-width="1.25"/>
<polygon points="1256.10,1119.60 1256.94,1121.84 1259.33,1121.95 1257.46,1123.44 1258.10,1125.75 1256.10,1124.43 1254.10,1125.75 1254.74,1123.44 1252.87,1121.95 1255.26,1121.84" fill="#000"/>
<line x1="1284.5" y1="914.0" x2="1284.5" y2="1018.5" stroke="#333" stroke-width="1.9"/>
<line x1="1279.9" y1="914.0" x2="1289.1" y2="914.0" stroke="#333" stroke-width="2.2"/>
<line x1="1279.9" y1="1018.5" x2="1289.1" y2="1018.5" stroke="#333" stroke-width="2.2"/>
<rect x="1275.2" y="951.2" width="18.6" height="30.1" fill="#000" rx="0.8"/>
<circle cx="1284.5" cy="904.5" r="3.0" fill="none" stroke="#111" stroke-width="1.75"/>
<circle cx="1284.5" cy="895.0" r="3.0" fill="none" stroke="#111" stroke-width="1.75"/>
<circle cx="1284.5" cy="885.5" r="3.1" fill="none" stroke="#555" stroke-width="1.25"/>
<circle cx="1284.5" cy="866.5" r="3.1" fill="none" stroke="#555" stroke-width="1.25"/>
<circle cx="1284.5" cy="1028.0" r="3.0" fill="none" stroke="#111" stroke-width="1.75"/>
<circle cx="1284.5" cy="1066.0" r="3.1" fill="none" stroke="#555" stroke-width="1.25"/>
<polygon points="1284.50,1072.10 1285.34,1074.34 1287.73,1074.45 1285.86,1075.94 1286.50,1078.25 1284.50,1076.93 1282.50,1078.25 1283.14,1075.94 1281.27,1074.45 1283.66,1074.34" fill="#000"/>
<polygon points="1284.50,1119.60 1285.34,1121.84 1287.73,1121.95 1285.86,1123.44 1286.50,1125.75 1284.50,1124.43 1282.50,1125.75 1283.14,1123.44 1281.27,1121.95 1283.66,1121.84" fill="#000"/>
<line x1="1312.7" y1="914.0" x2="1312.7" y2="1018.5" stroke="#333" stroke-width="1.9"/>
<line x1="1308.1000000000001" y1="914.0" x2="1317.3" y2="914.0" stroke="#333" stroke-width="2.2"/>
<line x1="1308.1000000000001" y1="1018.5" x2="1317.3" y2="1018.5" stroke="#333" stroke-width="2.2"/>
<rect x="1303.4" y="951.2" width="18.6" height="30.1" fill="#000" rx="0.8"/>
<circle cx="1312.7" cy="904.5" r="3.0" fill="none" stroke="#111" stroke-width="1.75"/>
<circle cx="1312.7" cy="895.0" r="3.0" fill="none" stroke="#111" stroke-width="1.75"/>
<circle cx="1312.7" cy="885.5" r="3.1" fill="none" stroke="#555" stroke-width="1.25"/>
<circle cx="1312.7" cy="866.5" r="3.1" fill="none" stroke="#555" stroke-width="1.25"/>
<circle cx="1312.7" cy="1028.0" r="3.1" fill="none" stroke="#555" stroke-width="1.25"/>
<circle cx="1312.7" cy="1037.5" r="3.1" fill="none" stroke="#555" stroke-width="1.25"/>
<circle cx="1312.7" cy="1066.0" r="3.1" fill="none" stroke="#555" stroke-width="1.25"/>
<polygon points="1312.70,1072.10 1313.54,1074.34 1315.93,1074.45 1314.06,1075.94 1314.70,1078.25 1312.70,1076.93 1310.70,1078.25 1311.34,1075.94 1309.47,1074.45 1311.86,1074.34" fill="#000"/>
<polygon points="1312.70,1119.60 1313.54,1121.84 1315.93,1121.95 1314.06,1123.44 1314.70,1125.75 1312.70,1124.43 1310.70,1125.75 1311.34,1123.44 1309.47,1121.95 1311.86,1121.84" fill="#000"/>
</svg>
</body></html>
